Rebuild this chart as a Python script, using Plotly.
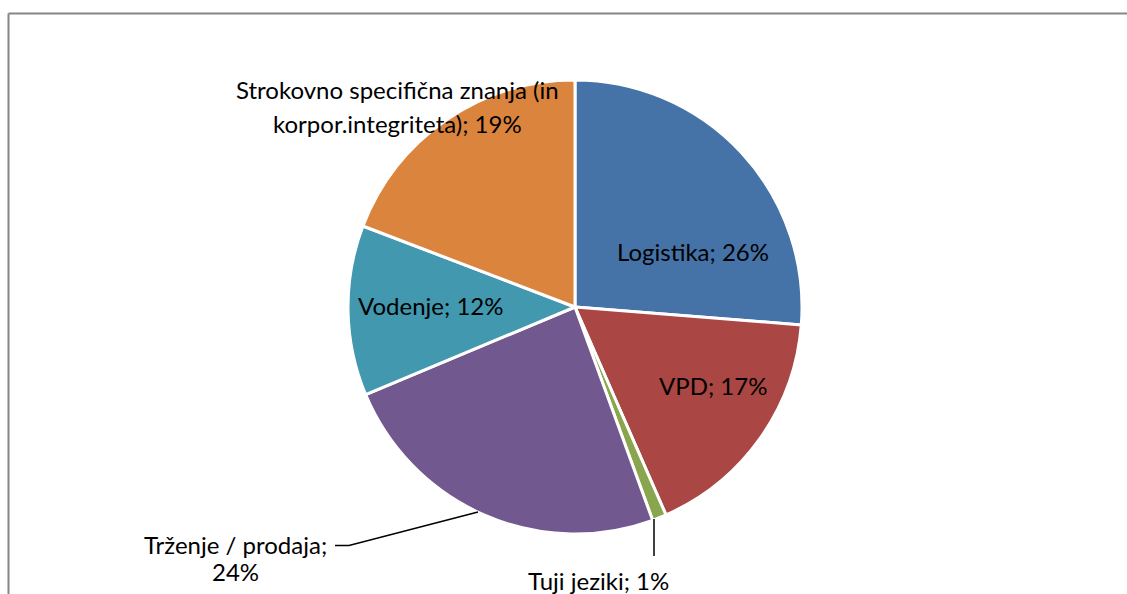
import plotly.graph_objects as go

# Data
labels = ["Logistika", "VPD", "Tuji jeziki", "Trženje / prodaja",
          "Vodenje", "Strokovno specifična znanja (in korpor.integriteta)"]
values = [26, 17, 1, 24, 12, 19]
colors = ["#4572A7", "#AA4643", "#89A54E", "#71588F", "#4198AF", "#DB843D"]

W, H = 1127, 594
FONT = "Lato"
FS = 24

def px(x):
    return x / W

def py(y):
    return 1 - y / H

cx, cy, r = 575, 307, 227

fig = go.Figure(go.Pie(
    labels=labels, values=values, sort=False, direction="clockwise",
    rotation=0, marker=dict(colors=colors, line=dict(color="white", width=3)),
    textinfo="none", hoverinfo="label+percent", showlegend=False,
    domain=dict(x=[px(cx - r), px(cx + r)], y=[py(cy + r), py(cy - r)]),
))

total = sum(values)
pct = [f"{round(v / total * 100)}%" for v in values]
texts = [f"{l}; {p}" for l, p in zip(labels, pct)]

anns = []
def add(text, x, y):
    anns.append(dict(text=text, x=px(x), y=py(y), xref="paper", yref="paper",
                     showarrow=False, xanchor="center", yanchor="middle",
                     font=dict(family=FONT, size=FS, color="black")))

add(texts[0], 693, 251)
add(texts[1], 713, 385)
add(texts[4], 431, 305)
add(texts[2], 598, 580)
add(f"{labels[3]};", 235, 544)
add(pct[3], 235, 571)
s = texts[5]
i = s.index("(in") + 3
add(s[:i], 397, 90)
add(s[i + 1:], 397, 123)

shapes = [
    dict(type="line", xref="paper", yref="paper", x0=px(8.5), y0=py(13.5), x1=1, y1=py(13.5),
         line=dict(color="#868686", width=2)),
    dict(type="line", xref="paper", yref="paper", x0=px(8.5), y0=py(13.5), x1=px(8.5), y1=0,
         line=dict(color="#868686", width=2)),
    dict(type="path", xref="paper", yref="paper",
         path=f"M {px(335)} {py(545.5)} L {px(349)} {py(545.5)} L {px(478)} {py(512)}",
         line=dict(color="black", width=1.5)),
    dict(type="line", xref="paper", yref="paper", x0=px(654), y0=py(519), x1=px(654), y1=py(556),
         line=dict(color="black", width=1.5)),
]

fig.update_layout(
    width=W, height=H, margin=dict(l=0, r=0, t=0, b=0),
    paper_bgcolor="white", plot_bgcolor="white",
    annotations=anns, shapes=shapes,
    font=dict(family=FONT),
)

fig.write_html(
    "out.html",
    config={"displayModeBar": False},
    post_script="document.body.style.margin='0';document.body.style.overflow='hidden';"
                "document.documentElement.style.overflow='hidden';",
)
